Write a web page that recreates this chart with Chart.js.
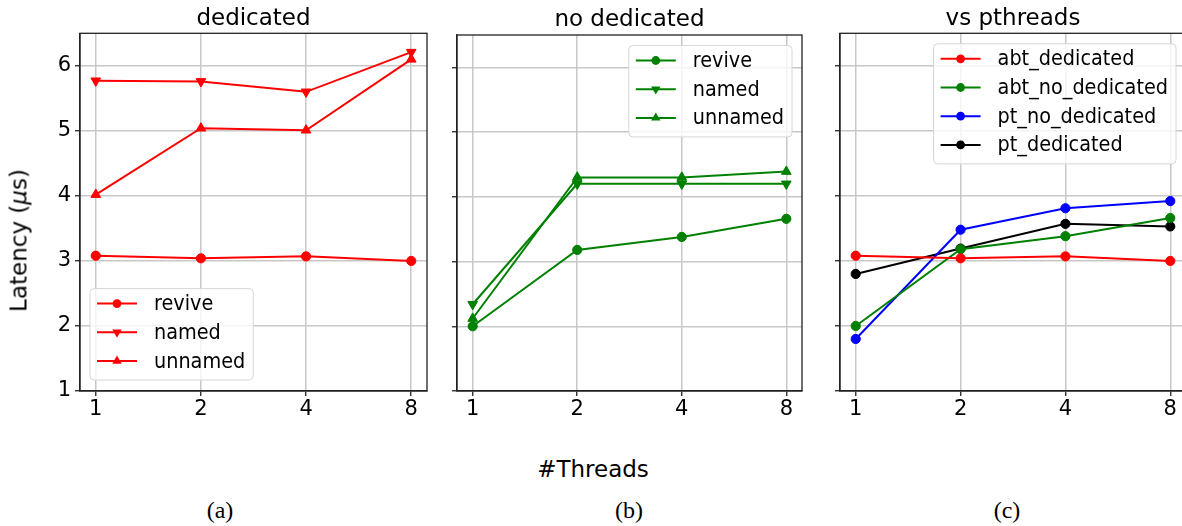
<!DOCTYPE html>
<html>
<head>
<meta charset="utf-8">
<script src="https://cdn.jsdelivr.net/npm/chart.js@4/dist/chart.umd.min.js"></script>
<style>
  html, body { margin: 0; padding: 0; background: #fff; }
  body { width: 1182px; height: 526px; overflow: hidden; position: relative; }
  canvas { position: absolute; top: 0; }
  .t { position: absolute; font-family: "DejaVu Sans", sans-serif; color: #000; white-space: nowrap; text-align: center; }
  .s { position: absolute; font-family: "Liberation Serif", "Times New Roman", serif; color: #000; white-space: nowrap; text-align: center; }
</style>
</head>
<body>
<canvas id="cA" width="440" height="430" style="left:0px"></canvas>
<canvas id="cB" width="440" height="430" style="left:380px"></canvas>
<canvas id="cC" width="440" height="430" style="left:760px"></canvas>

<div class="t" style="left:103.5px; top:5.5px; width:300px; font-size:23px; line-height:23px;">dedicated</div>
<div class="t" style="left:479.5px; top:7.2px; width:300px; font-size:23px; line-height:23px;">no dedicated</div>
<div class="t" style="left:863px; top:5.5px; width:300px; font-size:23px; line-height:23px;">vs pthreads</div>
<div class="t" style="left:-80.6px; top:228.5px; width:200px; height:23px; font-size:23px; line-height:23px; transform:rotate(-90deg);">Latency (<i>μ</i>s)</div>
<div class="t" style="left:443px; top:457.5px; width:300px; font-size:23px; line-height:23px;">#Threads</div>
<div class="s" style="left:170px; top:498.3px; width:100px; font-size:24px; line-height:24px;">(a)</div>
<div class="s" style="left:579px; top:498.3px; width:100px; font-size:24px; line-height:24px;">(b)</div>
<div class="s" style="left:957px; top:498.3px; width:100px; font-size:24px; line-height:24px;">(c)</div>

<script>
// ---- data ----
const threads = ['1', '2', '4', '8'];
const yTickValues = [1, 2, 3, 4, 5, 6];

const dedRevive   = [3.08, 3.04, 3.07, 3.00];
const dedNamed    = [5.77, 5.76, 5.60, 6.21];
const dedUnnamed  = [4.02, 5.04, 5.01, 6.10];

const noDedRevive  = [2.00, 3.18, 3.38, 3.66];
const noDedNamed   = [2.34, 4.20, 4.20, 4.20];
const noDedUnnamed = [2.12, 4.30, 4.30, 4.39];

const ptNoDedicated = [1.80, 3.48, 3.81, 3.92];
const ptDedicated   = [2.80, 3.19, 3.57, 3.53];

// ---- helpers ----
const toXY = arr => arr.map((v, i) => ({ x: i, y: v }));

function ds(label, arr, color, style) {
  const tri = style === 'up' || style === 'down';
  return {
    label: label,
    data: toXY(arr),
    borderColor: color,
    backgroundColor: color,
    pointBackgroundColor: color,
    pointBorderColor: color,
    borderWidth: 2,
    pointStyle: tri ? 'triangle' : 'circle',
    pointRotation: style === 'down' ? 180 : 0,
    pointRadius: tri ? 5.6 : 4.6,
    pointHoverRadius: tri ? 5.6 : 4.6,
    pointBorderWidth: 1,
    markerKind: style,
    tension: 0,
    fill: false
  };
}

function drawMarker(ctx, kind, x, y, r, color) {
  ctx.fillStyle = color;
  ctx.beginPath();
  if (kind === 'circle') {
    ctx.arc(x, y, r, 0, Math.PI * 2);
  } else {
    let rad = kind === 'down' ? Math.PI : 0;
    for (let k = 0; k < 3; k++) {
      const px = x + Math.sin(rad) * r, py = y - Math.cos(rad) * r;
      if (k === 0) ctx.moveTo(px, py); else ctx.lineTo(px, py);
      rad += 2 * Math.PI / 3;
    }
    ctx.closePath();
  }
  ctx.fill();
}

const LEGEND_SQUEEZE = 0.875;

const frameLegendPlugin = {
  id: 'frameLegend',
  afterDatasetsDraw(chart, args, opts) {
    const ctx = chart.ctx, a = chart.chartArea;
    ctx.save();
    // full box frame (spines)
    ctx.strokeStyle = '#222';
    ctx.lineWidth = 1.3;
    ctx.strokeRect(a.left, a.top, a.right - a.left, a.bottom - a.top);

    // legend
    const sets = chart.data.datasets;
    ctx.font = '22px "DejaVu Sans"';
    let maxW = 0;
    sets.forEach(d => { maxW = Math.max(maxW, ctx.measureText(d.label).width * LEGEND_SQUEEZE); });
    const rowH = 28.7;
    const w = 64 + maxW + 8;
    const h = 15 + (sets.length - 1) * rowH + 19;
    let x, y;
    if (opts.corner === 'lowerLeft') { x = a.left + 10; y = a.bottom - 11 - h; }
    else { x = a.right - 10 - w; y = a.top + 10.5; }
    const rr = 4;
    ctx.beginPath();
    ctx.moveTo(x + rr, y);
    ctx.lineTo(x + w - rr, y); ctx.arcTo(x + w, y, x + w, y + rr, rr);
    ctx.lineTo(x + w, y + h - rr); ctx.arcTo(x + w, y + h, x + w - rr, y + h, rr);
    ctx.lineTo(x + rr, y + h); ctx.arcTo(x, y + h, x, y + h - rr, rr);
    ctx.lineTo(x, y + rr); ctx.arcTo(x, y, x + rr, y, rr);
    ctx.closePath();
    ctx.fillStyle = 'rgba(255,255,255,0.8)';
    ctx.fill();
    ctx.strokeStyle = '#d6d6d6';
    ctx.lineWidth = 1;
    ctx.stroke();

    sets.forEach((d, i) => {
      const ry = y + 15 + i * rowH;
      ctx.strokeStyle = d.borderColor;
      ctx.lineWidth = 2;
      ctx.beginPath();
      ctx.moveTo(x + 7, ry); ctx.lineTo(x + 47, ry);
      ctx.stroke();
      const kind = d.markerKind;
      drawMarker(ctx, kind, x + 27, ry, kind === 'circle' ? 4.4 : 5.4, d.borderColor);
      ctx.fillStyle = '#000';
      ctx.textBaseline = 'alphabetic';
      ctx.textAlign = 'left';
      const tw = ctx.measureText(d.label).width * LEGEND_SQUEEZE;
      ctx.fillText(d.label, x + 64, ry + 6.5, tw);
    });
    ctx.restore();
  }
};

function makePanel(id, datasets, cfg) {
  return new Chart(document.getElementById(id), {
    type: 'line',
    data: { datasets: datasets },
    plugins: [frameLegendPlugin],
    options: {
      responsive: false,
      animation: false,
      events: [],
      layout: { padding: { left: 0, top: cfg.top, right: cfg.right, bottom: 0 } },
      plugins: {
        legend: { display: false },
        title: { display: false },
        tooltip: { enabled: false },
        frameLegend: { corner: cfg.corner }
      },
      scales: {
        x: {
          type: 'linear',
          min: -0.15,
          max: 3.15,
          afterBuildTicks: s => { s.ticks = threads.map((_, i) => ({ value: i })); },
          afterFit: s => { s.height = 39; },
          ticks: {
            callback: v => threads[Math.round(v)],
            font: { family: 'DejaVu Sans', size: 21 },
            color: '#000',
            padding: 1,
            maxRotation: 0,
            autoSkip: false
          },
          grid: { color: '#c8c8c8', lineWidth: 1.5, tickColor: '#222', tickLength: 5, tickWidth: 1.3 },
          border: { color: '#222', width: 1.3 }
        },
        y: {
          type: 'linear',
          min: 1,
          max: 6.5,
          afterBuildTicks: s => { s.ticks = yTickValues.map(v => ({ value: v })); },
          afterFit: s => { s.width = cfg.yWidth; },
          ticks: {
            callback: v => cfg.showY ? String(v) : '',
            font: { family: 'DejaVu Sans', size: 21 },
            color: '#000',
            padding: 4
          },
          grid: { color: '#c8c8c8', lineWidth: 1.5, tickColor: '#222', tickLength: 5, tickWidth: 1.3 },
          border: { color: '#222', width: 1.3 }
        }
      }
    }
  });
}

makePanel('cA', [
  ds('revive', dedRevive, '#ff0000', 'circle'),
  ds('named', dedNamed, '#ff0000', 'down'),
  ds('unnamed', dedUnnamed, '#ff0000', 'up')
], { top: 33.3, right: 13, yWidth: 80, showY: true, corner: 'lowerLeft' });

makePanel('cB', [
  ds('revive', noDedRevive, '#008000', 'circle'),
  ds('named', noDedNamed, '#008000', 'down'),
  ds('unnamed', noDedUnnamed, '#008000', 'up')
], { top: 35, right: 18, yWidth: 77, showY: false, corner: 'upperRight' });

makePanel('cC', [
  ds('abt_dedicated', dedRevive, '#ff0000', 'circle'),
  ds('abt_no_dedicated', noDedRevive, '#008000', 'circle'),
  ds('pt_no_dedicated', ptNoDedicated, '#0000ff', 'circle'),
  ds('pt_dedicated', ptDedicated, '#000000', 'circle')
], { top: 33.3, right: 14, yWidth: 80, showY: false, corner: 'upperRight' });
</script>
</body>
</html>
